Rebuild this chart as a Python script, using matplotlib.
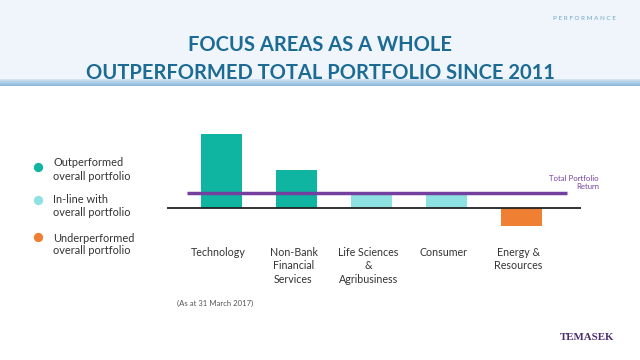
import matplotlib

matplotlib.use("Agg")

import matplotlib.pyplot as plt
import numpy as np
from matplotlib.patches import Rectangle

categories = [
    "Technology",
    "Non-Bank\nFinancial\nServices",
    "Life Sciences\n&\nAgribusiness",
    "Consumer",
    "Energy &\nResources",
]
values = [20.0, 10.3, 4.0, 4.0, -4.9]
groups = ["out", "inline", "under"]
bar_groups = ["out", "out", "inline", "inline", "under"]
total_return = 4.1

legend_labels = [
    "Outperformed\noverall portfolio",
    "In-line with\noverall portfolio",
    "Underperformed\noverall portfolio",
]
colors = {"out": "#0FB5A0", "inline": "#8EE1E1", "under": "#EE7F33"}
purple = "#7440A0"
title_color = "#1B6B95"
text_color = "#333333"
font = ["Lato", "DejaVu Sans"]

W, H = 640, 360
fig = plt.figure(figsize=(W / 100, H / 100), dpi=100)

# header band, drawn in pixel coords
bg = fig.add_axes([0, 0, 1, 1], zorder=-1)
bg.axis("off")
bg.add_patch(Rectangle((0, 0), W, 79, color="#EFF5FB", lw=0))
grad = np.linspace(0, 1, 8).reshape(-1, 1)
bg.imshow(
    grad,
    extent=(0, W, 86, 78),
    cmap=matplotlib.colors.LinearSegmentedColormap.from_list("hb", ["#DCE9F5", "#8DB8E0"]),
    aspect="auto",
)
bg.set_xlim(0, W)
bg.set_ylim(H, 0)

bg.text(320, 45, "FOCUS AREAS AS A WHOLE", ha="center", va="center",
        fontsize=14.5, fontweight="bold", color=title_color, family=font)
bg.text(320, 73, "OUTPERFORMED TOTAL PORTFOLIO SINCE 2011", ha="center", va="center",
        fontsize=14.5, fontweight="bold", color=title_color, family=font)
bg.text(616, 19, "P E R F O R M A N C E", ha="right", va="center",
        fontsize=4.5, color="#6FA6C9", family=font)

# legend
dot_y = [167, 200, 237]
line_y = [(163, 176), (199.5, 212), (238.5, 251)]
for i, lab in enumerate(legend_labels):
    bg.scatter([37.5], [dot_y[i]], s=45, color=colors[groups[i]], lw=0)
    for ly, part in zip(line_y[i], lab.split("\n")):
        bg.text(53, ly, part, ha="left", va="center", fontsize=7.9,
                color=text_color, family=font)

bg.text(177, 303, "(As at 31 March 2017)", ha="left", va="center",
        fontsize=5.6, color="#555555", family=font)
bg.text(614, 337, "TEMASEK", ha="right", va="center", fontsize=7.8,
        fontweight="bold", color="#4B2A6E", family=["Liberation Serif", "DejaVu Serif"])

# chart
ax = fig.add_axes([167 / W, 1 - 230.2 / H, 414 / W, 100 / H])
x = np.arange(len(categories))
ax.bar(x, values, width=0.55, color=[colors[g] for g in bar_groups], zorder=2)
ax.axhline(0, color="#222222", lw=1.3, zorder=3)
ax.hlines(total_return, -0.46, 4.61, color=purple, lw=2.5, zorder=4)
ax.set_xlim(-0.727, 4.793)
ax.set_ylim(-6, 21)
ax.axis("off")

for xi, lab in zip(x, categories):
    bg.text(221.5 + 75 * xi - 3, 246.5, lab, ha="center", va="top", fontsize=7.7,
            color=text_color, family=font, linespacing=1.28)

bg.text(599, 182.5, "Total Portfolio\nReturn", ha="right", va="center", fontsize=5.6,
        color=purple, family=font, linespacing=1.25)

fig.savefig("out.png", dpi=100)
